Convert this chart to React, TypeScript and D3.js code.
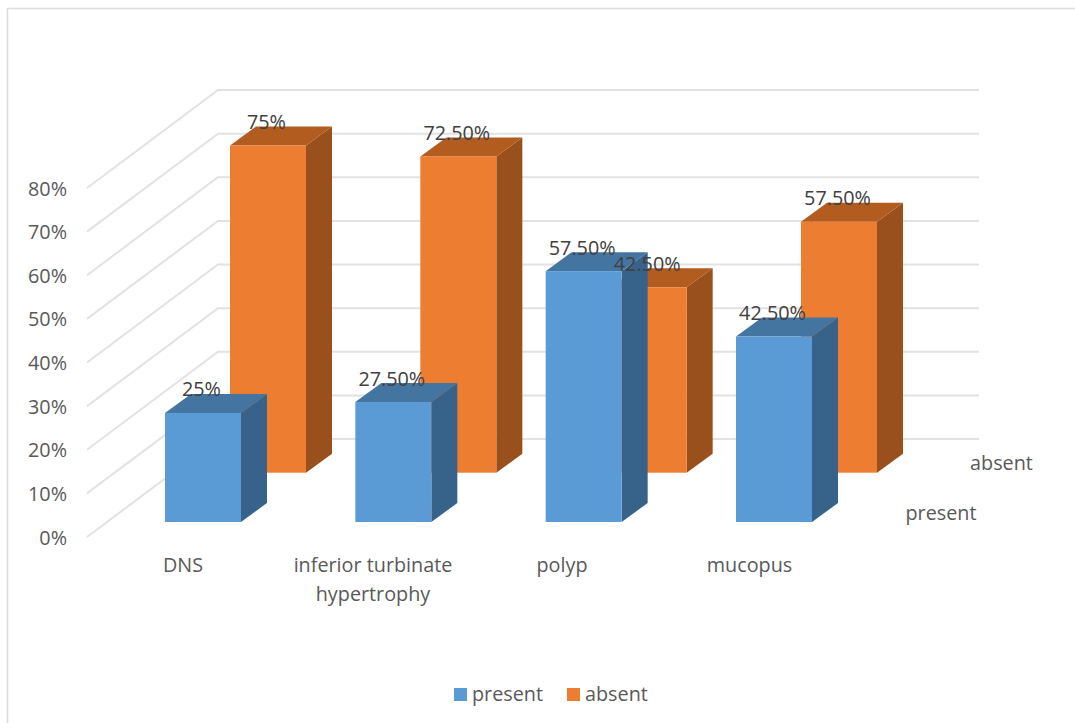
import React from "react";
import * as d3 from "d3";

// Category and series values, in percent
const categories = ["DNS", "inferior turbinate hypertrophy", "polyp", "mucopus"];
const categoryLines = [["DNS"], ["inferior turbinate", "hypertrophy"], ["polyp"], ["mucopus"]];
const presentValues = [25, 27.5, 57.5, 42.5];
const absentValues = [75, 72.5, 42.5, 57.5];
const presentLabels = ["25%", "27.50%", "57.50%", "42.50%"];
const absentLabels = ["75%", "72.50%", "42.50%", "57.50%"];
const axisTicks = [0, 10, 20, 30, 40, 50, 60, 70, 80];

const FONT = "'Open Sans', sans-serif";
const WIDTH = 1075;
const HEIGHT = 723;
const TEXT_SIZE = 19.8;

// Bar height in pixels for a percentage
const heightScale = d3.scaleLinear().domain([0, 80]).range([0, 349]);
// Left edge of each category's front bar
const frontX = d3.scalePoint<string>().domain(categories).range([165, 736]);

const BAR_W = 76;
const DEPTH_X = 26;
const DEPTH_Y = 19;

type Tone = { front: string; side: string; top: string };
const blue: Tone = { front: "#5b9bd5", side: "#376289", top: "#4475a1" };
const orange: Tone = { front: "#ed7d31", side: "#99501c", top: "#b25c20" };

function Bar3D({ x, base, value, tone }: { x: number; base: number; value: number; tone: Tone }) {
  const top = base - heightScale(value);
  const right = x + BAR_W;
  const pts = (p: number[][]) => p.map((q) => q.join(",")).join(" ");
  return (
    <g>
      <polygon
        fill={tone.side}
        points={pts([[right, top], [right + DEPTH_X, top - DEPTH_Y], [right + DEPTH_X, base - DEPTH_Y], [right, base]])}
      />
      <polygon
        fill={tone.top}
        points={pts([[x, top], [x + DEPTH_X, top - DEPTH_Y], [right + DEPTH_X, top - DEPTH_Y], [right, top]])}
      />
      <rect x={x} y={top} width={BAR_W} height={base - top} fill={tone.front} />
    </g>
  );
}

export default function App() {
  const wallBase = 439;
  const floorDx = 131;
  const floorDy = 98;
  const wallLeft = 218;
  const wallRight = 979;
  const presentBase = 522;
  const absentBase = 472.7;
  const absentOffset = 65;

  return (
    <svg
      width={WIDTH}
      height={HEIGHT}
      style={{ position: "absolute", left: 0, top: 0, background: "#fff" }}
      fontFamily={FONT}
    >
      <path d="M7.5,723V8.5H1075" fill="none" stroke="#dcdcdc" strokeWidth={1.5} />

      {/* Side floor/wall gridlines and back wall gridlines */}
      {axisTicks.map((t) => {
        const y = wallBase - heightScale(t);
        return (
          <path
            key={t}
            d={`M${wallLeft - floorDx},${y + floorDy}L${wallLeft},${y}H${wallRight}`}
            fill="none"
            stroke="#e2e2e2"
            strokeWidth={2}
          />
        );
      })}

      {axisTicks.map((t) => (
        <text
          key={t}
          x={67}
          y={wallBase + floorDy - heightScale(t) + 7.5}
          textAnchor="end"
          fontSize={TEXT_SIZE}
          fill="#595959"
        >
          {t}%
        </text>
      ))}

      {/* Rear series first so the front series overlaps it */}
      {categories.map((c, i) => (
        <Bar3D key={c} x={frontX(c)! + absentOffset} base={absentBase} value={absentValues[i]} tone={orange} />
      ))}
      {categories.map((c, i) => (
        <Bar3D key={c} x={frontX(c)!} base={presentBase} value={presentValues[i]} tone={blue} />
      ))}

      {categories.map((c, i) => (
        <text
          key={c}
          x={frontX(c)! + absentOffset + 36.5}
          y={absentBase - heightScale(absentValues[i]) - 16.5}
          textAnchor="middle"
          fontSize={TEXT_SIZE}
          fill="#404040"
        >
          {absentLabels[i]}
        </text>
      ))}
      {categories.map((c, i) => (
        <text
          key={c}
          x={frontX(c)! + 36.5}
          y={presentBase - heightScale(presentValues[i]) - 16.5}
          textAnchor="middle"
          fontSize={TEXT_SIZE}
          fill="#404040"
        >
          {presentLabels[i]}
        </text>
      ))}

      {categories.map((c, i) =>
        categoryLines[i].map((line, j) => (
          <text
            key={line}
            x={[183, 373, 562, 749.5][i]}
            y={572 + j * 28.5}
            textAnchor="middle"
            fontSize={TEXT_SIZE}
            fill="#595959"
          >
            {line}
          </text>
        ))
      )}

      <text x={1001.5} y={470} textAnchor="middle" fontSize={TEXT_SIZE} fill="#595959">absent</text>
      <text x={941} y={520} textAnchor="middle" fontSize={TEXT_SIZE} fill="#595959">present</text>

      <rect x={454} y={688} width={13} height={13} fill={blue.front} />
      <text x={472} y={701} fontSize={TEXT_SIZE} fill="#595959">present</text>
      <rect x={567} y={688} width={13} height={13} fill={orange.front} />
      <text x={585} y={701} fontSize={TEXT_SIZE} fill="#595959">absent</text>
    </svg>
  );
}
